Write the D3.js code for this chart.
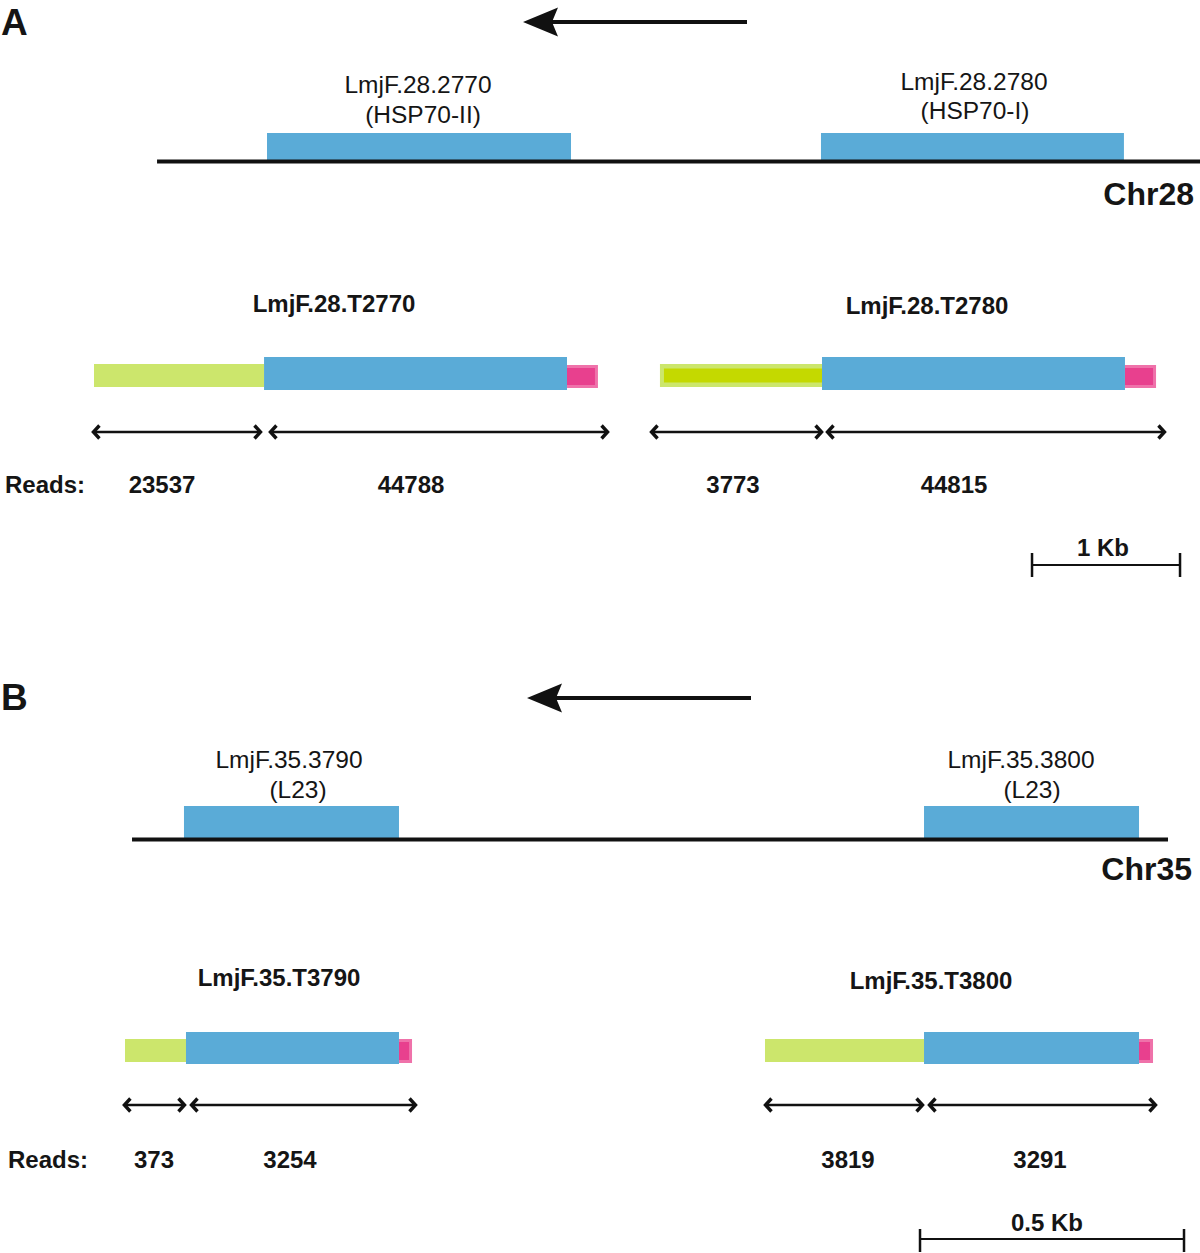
<!DOCTYPE html>
<html><head><meta charset="utf-8">
<script src="https://cdn.jsdelivr.net/npm/d3@7"></script>
<style>
html,body{margin:0;padding:0;background:#fff;}
text{font-family:"Liberation Sans",Arial,Helvetica,sans-serif;fill:#151515;}
</style></head>
<body>
<svg id="chart" width="1200" height="1253"></svg>
<script>
// ---------- DATA (positions in kb along each panel's axis) ----------
// Panel A (Chr28, 1 Kb scale bar)
const chrA = [0.426, 7.473];
const genesA = [
  {name: "LmjF.28.2770", alias: "(HSP70-II)", start: 1.169, end: 3.223},
  {name: "LmjF.28.2780", alias: "(HSP70-I)",  start: 4.912, end: 6.959}
];
const transcriptsA = [
  {name: "LmjF.28.T2770", utr5: [0, 1.149], cds: [1.149, 3.196], utr3: [3.196, 3.405], darkUtr: false},
  {name: "LmjF.28.T2780", utr5: [3.824, 4.919], cds: [4.919, 6.966], utr3: [6.966, 7.176], darkUtr: true}
];
const spansA = [[-0.014, 1.135], [1.182, 3.480], [3.757, 4.926], [4.946, 7.243]];
const readsA = [23537, 44788, 3773, 44815];
const scaleBarA = {length: 1, label: "1 Kb", start: 6.338};

// Panel B (Chr35, 0.5 Kb scale bar)
const chrB = [0.0133, 1.9754];
const genesB = [
  {name: "LmjF.35.3790", alias: "(L23)", start: 0.1117, end: 0.5189},
  {name: "LmjF.35.3800", alias: "(L23)", start: 1.5133, end: 1.9205}
];
const transcriptsB = [
  {name: "LmjF.35.T3790", utr5: [0, 0.1155], cds: [0.1155, 0.5189], utr3: [0.5189, 0.5436], darkUtr: false},
  {name: "LmjF.35.T3800", utr5: [1.2121, 1.5133], cds: [1.5133, 1.9205], utr3: [1.9205, 1.9470], darkUtr: false}
];
const spansB = [[-0.004, 0.1155], [0.1231, 0.553], [1.2102, 1.5133], [1.5208, 1.9545]];
const readsB = [373, 3254, 3819, 3291];
const scaleBarB = {length: 0.5, label: "0.5 Kb", start: 1.5057};

// ---------- LAYOUT / STYLE ----------
const C = {blue: "#5aabd7", green: "#cce66c", darkGreen: "#c4d900", pink: "#e8408e", pinkEdge: "#ef72aa"};

const layoutA = {
  panel: "A", panelXY: [1, 35],
  x: d3.scaleLinear().domain([0, 1]).range([94, 242]),
  dirArrow: {x1: 747, x2: 523, y: 22},
  geneTop: 133, geneBottom: 160, chrY: 161.5,
  geneLabels: [{x: 418, y: 93, ax: 423, ay: 123}, {x: 974, y: 90, ax: 975, ay: 119}],
  chrLabel: {text: "Chr28", x: 1194, y: 205},
  txLabels: [{x: 334, y: 312}, {x: 927, y: 314}],
  blueY: [357, 390], greenY: [364, 387], pinkY: [365, 388],
  spanY: 432,
  readsLabel: {x: 5, y: 493},
  readsX: [162, 411, 733, 954], readsY: 493,
  bar: {y: 565, tick: [553, 577], labelX: 1103, labelY: 556}
};
const layoutB = {
  panel: "B", panelXY: [1, 710],
  x: d3.scaleLinear().domain([0, 1]).range([125, 653]),
  dirArrow: {x1: 751, x2: 527, y: 698},
  geneTop: 806, geneBottom: 838, chrY: 839.5,
  geneLabels: [{x: 289, y: 768, ax: 298, ay: 798}, {x: 1021, y: 768, ax: 1032, ay: 798}],
  chrLabel: {text: "Chr35", x: 1192, y: 880},
  txLabels: [{x: 279, y: 986}, {x: 931, y: 989}],
  blueY: [1032, 1064], greenY: [1039, 1062], pinkY: [1039, 1063],
  spanY: 1105,
  readsLabel: {x: 8, y: 1168},
  readsX: [154, 290, 848, 1040], readsY: 1168,
  bar: {y: 1239, tick: [1229, 1252], labelX: 1047, labelY: 1231}
};

const svg = d3.select("#chart");

function drawPanel(L, chr, genes, transcripts, spans, reads, bar) {
  const g = svg.append("g");
  const x = L.x;

  // panel letter
  g.append("text").attr("x", L.panelXY[0]).attr("y", L.panelXY[1])
    .attr("font-size", 37).attr("font-weight", "bold").text(L.panel);

  // direction arrow (filled barbed head)
  const a = L.dirArrow;
  g.append("line").attr("x1", a.x1).attr("x2", a.x2 + 20).attr("y1", a.y).attr("y2", a.y)
    .attr("stroke", "#111").attr("stroke-width", 4);
  g.append("path")
    .attr("d", `M${a.x2},${a.y} L${a.x2 + 35},${a.y - 14.5} L${a.x2 + 29},${a.y} L${a.x2 + 35},${a.y + 14.5} Z`)
    .attr("fill", "#111");

  // gene boxes
  g.selectAll(".gene").data(genes).join("rect")
    .attr("x", d => x(d.start)).attr("width", d => x(d.end) - x(d.start))
    .attr("y", L.geneTop).attr("height", L.geneBottom - L.geneTop)
    .attr("fill", C.blue);

  // chromosome line
  g.append("line").attr("x1", x(chr[0])).attr("x2", x(chr[1]))
    .attr("y1", L.chrY).attr("y2", L.chrY).attr("stroke", "#111").attr("stroke-width", 4);

  // gene labels
  genes.forEach((d, i) => {
    const p = L.geneLabels[i];
    g.append("text").attr("x", p.x).attr("y", p.y).attr("text-anchor", "middle")
      .attr("font-size", 24.5).attr("fill", "#222").text(d.name);
    g.append("text").attr("x", p.ax).attr("y", p.ay).attr("text-anchor", "middle")
      .attr("font-size", 24.5).attr("fill", "#222").text(d.alias);
  });

  // chromosome label
  g.append("text").attr("x", L.chrLabel.x).attr("y", L.chrLabel.y).attr("text-anchor", "end")
    .attr("font-size", 32).attr("font-weight", "bold").text(L.chrLabel.text);

  // transcripts
  transcripts.forEach((t, i) => {
    const p = L.txLabels[i];
    g.append("text").attr("x", p.x).attr("y", p.y).attr("text-anchor", "middle")
      .attr("font-size", 24).attr("font-weight", "bold").text(t.name);
    // 5' UTR (green)
    g.append("rect").attr("x", x(t.utr5[0])).attr("width", x(t.utr5[1]) - x(t.utr5[0]))
      .attr("y", L.greenY[0]).attr("height", L.greenY[1] - L.greenY[0]).attr("fill", C.green);
    if (t.darkUtr) {
      g.append("rect").attr("x", x(t.utr5[0]) + 4).attr("width", x(t.utr5[1]) - x(t.utr5[0]) - 4)
        .attr("y", L.greenY[0] + 4.5).attr("height", L.greenY[1] - L.greenY[0] - 9).attr("fill", C.darkGreen);
    }
    // 3' UTR (pink)
    g.append("rect").attr("x", x(t.utr3[0])).attr("width", x(t.utr3[1]) - x(t.utr3[0]))
      .attr("y", L.pinkY[0]).attr("height", L.pinkY[1] - L.pinkY[0]).attr("fill", C.pinkEdge);
    g.append("rect").attr("x", x(t.utr3[0])).attr("width", x(t.utr3[1]) - x(t.utr3[0]) - 3)
      .attr("y", L.pinkY[0] + 3).attr("height", L.pinkY[1] - L.pinkY[0] - 6).attr("fill", C.pink);
    // CDS (blue)
    g.append("rect").attr("x", x(t.cds[0])).attr("width", x(t.cds[1]) - x(t.cds[0]))
      .attr("y", L.blueY[0]).attr("height", L.blueY[1] - L.blueY[0]).attr("fill", C.blue);
  });

  // double-headed span arrows
  const sy = L.spanY, hw = 7.5, hh = 6.5;
  spans.forEach(s => {
    const x1 = x(s[0]), x2 = x(s[1]);
    g.append("line").attr("x1", x1 + 1).attr("x2", x2 - 1).attr("y1", sy).attr("y2", sy)
      .attr("stroke", "#111").attr("stroke-width", 2.5);
    g.append("path").attr("d", `M${x1 + hw},${sy - hh} L${x1 + 1.5},${sy} L${x1 + hw},${sy + hh}`)
      .attr("fill", "none").attr("stroke", "#111").attr("stroke-width", 3.4).attr("stroke-linejoin", "miter");
    g.append("path").attr("d", `M${x2 - hw},${sy - hh} L${x2 - 1.5},${sy} L${x2 - hw},${sy + hh}`)
      .attr("fill", "none").attr("stroke", "#111").attr("stroke-width", 3.4).attr("stroke-linejoin", "miter");
  });

  // reads
  g.append("text").attr("x", L.readsLabel.x).attr("y", L.readsLabel.y)
    .attr("font-size", 24).attr("font-weight", "bold").text("Reads:");
  reads.forEach((r, i) => {
    g.append("text").attr("x", L.readsX[i]).attr("y", L.readsY).attr("text-anchor", "middle")
      .attr("font-size", 24).attr("font-weight", "bold").text(r);
  });

  // scale bar
  const bx1 = x(bar.start), bx2 = x(bar.start + bar.length);
  g.append("line").attr("x1", bx1).attr("x2", bx2).attr("y1", L.bar.y).attr("y2", L.bar.y)
    .attr("stroke", "#111").attr("stroke-width", 2);
  [bx1, bx2].forEach(bx => g.append("line").attr("x1", bx).attr("x2", bx)
    .attr("y1", L.bar.tick[0]).attr("y2", L.bar.tick[1]).attr("stroke", "#111").attr("stroke-width", 2.5));
  g.append("text").attr("x", L.bar.labelX).attr("y", L.bar.labelY).attr("text-anchor", "middle")
    .attr("font-size", 24).attr("font-weight", "bold").text(bar.label);
}

drawPanel(layoutA, chrA, genesA, transcriptsA, spansA, readsA, scaleBarA);
drawPanel(layoutB, chrB, genesB, transcriptsB, spansB, readsB, scaleBarB);
</script>
</body></html>
